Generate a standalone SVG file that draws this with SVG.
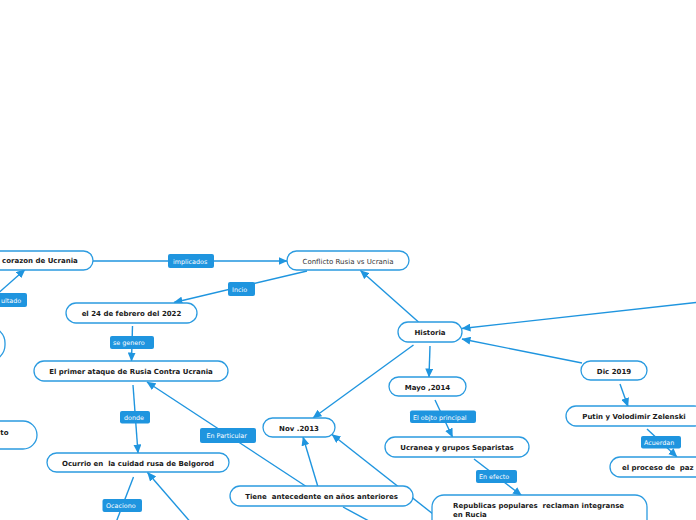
<svg xmlns="http://www.w3.org/2000/svg" width="696" height="520" viewBox="0 0 696 520">
<style>
.n rect{fill:#fff;stroke:#2b9be0;stroke-width:1.3}
.n text{font-family:"DejaVu Sans",Verdana,sans-serif;font-size:7px;font-weight:bold;fill:#1a1a1a;text-anchor:middle;white-space:pre}
.n text.s{text-anchor:start}
.n text.e{text-anchor:end}
.n text.r{font-weight:normal;fill:#333}
.c line{stroke:#1f95df;stroke-width:1.4;fill:none}
.c line.a{marker-end:url(#ah)}
.l rect{fill:#1f95df}
.l text{font-family:"DejaVu Sans",Verdana,sans-serif;font-size:6.4px;fill:#fff}
</style>
<defs>
<marker id="ah" markerUnits="userSpaceOnUse" markerWidth="9" markerHeight="8" viewBox="0 0 9 8" refX="8.5" refY="4" orient="auto">
<path d="M0,0 L9,4 L0,8 Z" fill="#1f95df"/>
</marker>
</defs>
<rect width="696" height="520" fill="#fff"/>
<g class="c" id="connectors">
<line class="a" x1="93" y1="261" x2="287" y2="261"/>
<line class="a" x1="307" y1="271" x2="174" y2="302.5"/>
<line class="a" x1="-5" y1="296" x2="25" y2="269.5"/>
<line class="a" x1="132.5" y1="326" x2="131.5" y2="361"/>
<line class="a" x1="133" y1="385" x2="138" y2="453"/>
<line class="a" x1="307" y1="487" x2="147" y2="382"/>
<line x1="133.5" y1="477" x2="115" y2="525"/>
<line class="a" x1="193" y1="525" x2="147.5" y2="472.5"/>
<line class="a" x1="418.5" y1="322" x2="360.5" y2="270.5"/>
<line class="a" x1="413.5" y1="345" x2="313" y2="418"/>
<line class="a" x1="430" y1="346" x2="429" y2="377"/>
<line class="a" x1="700" y1="302" x2="462" y2="328.5"/>
<line class="a" x1="582" y1="363" x2="462" y2="339"/>
<line class="a" x1="620" y1="384" x2="628" y2="406.5"/>
<line class="a" x1="435" y1="400" x2="452.5" y2="437"/>
<line class="a" x1="474" y1="459" x2="521.5" y2="495.5"/>
<line class="a" x1="647" y1="429" x2="677" y2="457"/>
<line class="a" x1="318" y1="487" x2="303" y2="437"/>
<line class="a" x1="433" y1="514" x2="332" y2="434.5"/>
<line x1="343" y1="507" x2="380" y2="527"/>
</g>
<g class="l" id="lbl-implicados"><rect x="168" y="254" width="46" height="14" rx="2"/><text x="173" y="264">implicados</text></g>
<g class="l" id="lbl-incio"><rect x="228" y="282" width="27" height="14" rx="2"/><text x="232" y="291.5">Incio</text></g>
<g class="l" id="lbl-resultado"><rect x="-20" y="293" width="47" height="14" rx="2"/><text x="1" y="302.5">ultado</text></g>
<g class="l" id="lbl-segenero"><rect x="110" y="336" width="44" height="13" rx="2"/><text x="113" y="345">se genero</text></g>
<g class="l" id="lbl-donde"><rect x="120" y="411" width="30" height="12.5" rx="2"/><text x="124" y="420">donde</text></g>
<g class="l" id="lbl-particular"><rect x="200" y="428" width="56" height="15" rx="2"/><text x="206.5" y="438">En Particular</text></g>
<g class="l" id="lbl-ocaciono"><rect x="102.5" y="499" width="39.5" height="13" rx="2"/><text x="106" y="508">Ocaciono</text></g>
<g class="l" id="lbl-objto"><rect x="410" y="410.5" width="66" height="12.5" rx="2"/><text x="413" y="419.5">El objto principal</text></g>
<g class="l" id="lbl-efecto"><rect x="476" y="470" width="41" height="13" rx="2"/><text x="479" y="479">En efecto</text></g>
<g class="l" id="lbl-acuerdan"><rect x="641" y="436" width="40" height="12.5" rx="2"/><text x="644" y="445">Acuerdan</text></g>
<g class="n" id="n-corazon"><rect x="-120" y="251" width="213" height="19" rx="9.5"/><text class="s" x="2" y="263">corazon de Ucrania</text></g>
<g class="n" id="n-conflicto"><rect x="287" y="251" width="122" height="19" rx="9.5"/><text class="r" x="348" y="263.5">Conflicto Rusia vs Ucrania</text></g>
<g class="n" id="n-left1"><rect x="-100" y="327" width="105" height="34" rx="16"/></g>
<g class="n" id="n-left2"><rect x="-100" y="421" width="137" height="28" rx="14"/><text class="e" x="8.5" y="434.5">to</text></g>
<g class="n" id="n-feb"><rect x="66" y="303" width="131" height="20" rx="10"/><text x="131.5" y="315.5">el 24 de febrero del 2022</text></g>
<g class="n" id="n-ataque"><rect x="34" y="361" width="194" height="20" rx="10"/><text x="131" y="373.5">El primer ataque de Rusia Contra Ucrania</text></g>
<g class="n" id="n-ocurrio"><rect x="47" y="453" width="182" height="19" rx="9.5"/><text x="138" y="465.5" xml:space="preserve">Ocurrio en  la cuidad rusa de Belgorod</text></g>
<g class="n" id="n-nov"><rect x="263" y="418" width="72" height="19" rx="9.5"/><text x="299" y="430.5">Nov .2013</text></g>
<g class="n" id="n-tiene"><rect x="230" y="486" width="183" height="20" rx="10"/><text x="321.5" y="498.5" xml:space="preserve">Tiene  antecedente en años anteriores</text></g>
<g class="n" id="n-historia"><rect x="398" y="322" width="64" height="20" rx="10"/><text x="430" y="334.5">Historia</text></g>
<g class="n" id="n-mayo"><rect x="389" y="377" width="77" height="19" rx="9.5"/><text x="427.5" y="389.5">Mayo ,2014</text></g>
<g class="n" id="n-ucranea"><rect x="385" y="437" width="144" height="20" rx="10"/><text x="457" y="449.5">Ucranea y grupos Separistas</text></g>
<g class="n" id="n-republicas"><rect x="432" y="495" width="215" height="40" rx="12"/><text class="s" x="453" y="508" xml:space="preserve">Republicas populares  reclaman integranse</text><text class="s" x="453" y="516.5">en Rucia</text></g>
<g class="n" id="n-dic"><rect x="581" y="361" width="66" height="19" rx="9.5"/><text x="614" y="373.5">Dic 2019</text></g>
<g class="n" id="n-putin"><rect x="566" y="406" width="138" height="20" rx="10"/><text x="634" y="418.5">Putin y Volodimir Zelenski</text></g>
<g class="n" id="n-paz"><rect x="610" y="457" width="120" height="20" rx="10"/><text class="s" x="622" y="469.5" xml:space="preserve">el proceso de  paz</text></g>
</svg>
